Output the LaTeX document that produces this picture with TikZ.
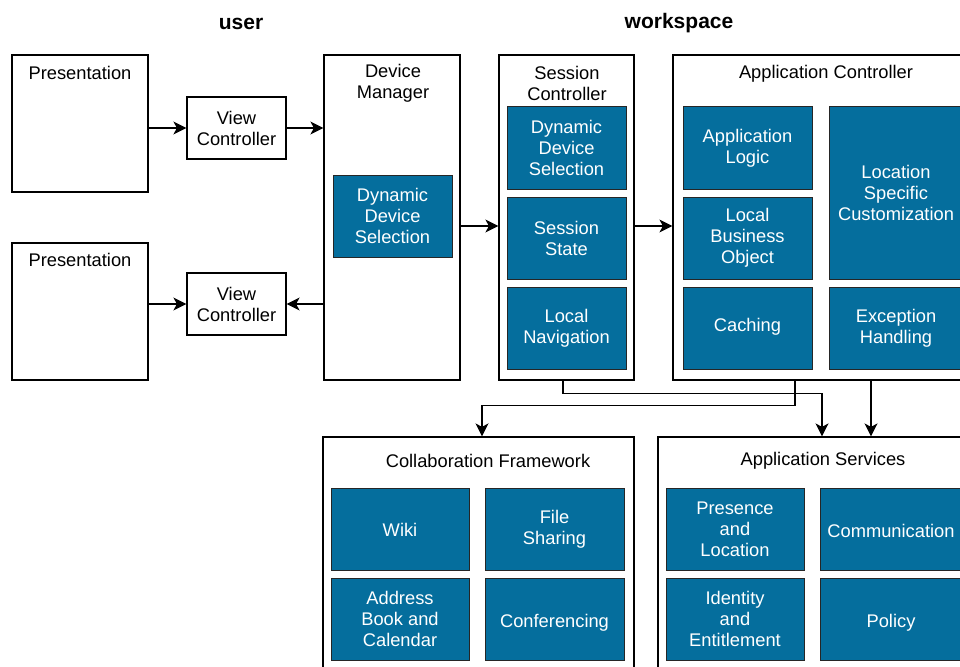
\documentclass[tikz,border=0pt]{standalone}
\usepackage{fontspec}
\setmainfont{Liberation Sans}
\usetikzlibrary{arrows.meta,calc}
\definecolor{cblue}{RGB}{5,110,157}
\newcommand{\dn}[2]{\raisebox{-#1}[\height][\depth]{#2}}
\begin{document}
\begin{tikzpicture}[x=1pt,y=-1pt,
  lbl/.style={font=\fontsize{18.3}{21}\selectfont, align=center},
  outer/.style={draw, line width=1.2pt, fill=white, inner sep=0pt},
  blk/.style={draw=black!85, line width=1pt, fill=cblue, text=white, lbl, inner sep=0pt, minimum height=82pt},
  vcbox/.style={draw, line width=1.2pt, fill=white, lbl, inner sep=0pt, minimum width=99pt, minimum height=62pt},
  ttl/.style={font=\fontsize{21}{24}\selectfont\bfseries},
  arr/.style={-{Stealth[length=13pt,width=13pt,inset=3.5pt]}, line width=1.3pt}]
\useasboundingbox (0,0) rectangle (960,666);
\clip (0,0) rectangle (960,666);
\fill[white] (0,0) rectangle (960,666);

\node[ttl] (tuser) at (241,23.5) {user};
\node[ttl] (tws) at (679,23.5) {workspace};

% left column
\node[outer, minimum width=136pt, minimum height=137pt] (pres1) at (80,123.5) {};
\node[lbl] (pres1t) at (80,73) {Presentation};
\node[outer, minimum width=136pt, minimum height=137pt] (pres2) at (80,311.5) {};
\node[lbl] (pres2t) at (80,260) {Presentation};
\node[vcbox] (vc1) at (236.5,128) {View\\Controller};
\node[vcbox] (vc2) at (236.5,304) {View\\Controller};

% device manager
\node[outer, minimum width=136pt, minimum height=325pt] (dm) at (392,217.5) {};
\node[lbl] (dmt) at (393,83) {Device\\Manager};
\node[blk, minimum width=119pt] (dds1) at (392.5,216) {Dynamic\\Device\\Selection};

% session controller
\node[outer, minimum width=135pt, minimum height=325pt] (sc) at (566.5,217.5) {};
\node[lbl] (sct) at (567,83) {Session\\Controller};
\node[blk, minimum width=119pt] (dds2) at (566.5,148) {Dynamic\\Device\\Selection};
\node[blk, minimum width=119pt] (ss) at (566.5,238) {Session\\State};
\node[blk, minimum width=119pt] (ln) at (566.5,328) {Local\\Navigation};

% application controller
\node[outer, minimum width=306pt, minimum height=325pt] (ac) at (826,217.5) {};
\node[lbl] (act) at (826,74) {Application Controller};
\node[blk, minimum width=129pt] (al) at (747.5,148) {Application\\Logic};
\node[blk, minimum width=129pt] (lbo) at (747.5,238) {Local\\Business\\Object};
\node[blk, minimum width=129pt] (cach) at (747.5,328) {\dn{-1pt}{Caching}};
\node[blk, minimum width=134pt, minimum height=172pt] (lsc) at (896,193) {Location\\Specific\\Customization};
\node[blk, minimum width=134pt] (eh) at (896,328) {Exception\\Handling};

% collaboration framework
\node[outer, minimum width=311pt, minimum height=263pt] (cf) at (478.5,568.5) {};
\node[lbl] (cft) at (488,461) {Collaboration Framework};
\node[blk, minimum width=138pt] (wiki) at (400,529) {\dn{1pt}{Wiki}};
\node[blk, minimum width=139pt] (fs) at (554.5,529) {File\\Sharing};
\node[blk, minimum width=138pt] (abc) at (400,619) {Address\\Book and\\Calendar};
\node[blk, minimum width=139pt] (conf) at (554.5,619) {\dn{4pt}{Conferencing}};

% application services
\node[outer, minimum width=330pt, minimum height=263pt] (as) at (823,568.5) {};
\node[lbl] (ast) at (823,460.5) {Application Services};
\node[blk, minimum width=138pt] (pl) at (735,529) {Presence\\and\\Location};
\node[blk, minimum width=142pt] (comm) at (891,529) {\dn{2pt}{Communication}};
\node[blk, minimum width=138pt] (ie) at (735,619) {Identity\\and\\Entitlement};
\node[blk, minimum width=142pt] (pol) at (891,619) {\dn{4pt}{Policy}};

% connectors
\draw[arr] (pres1.east |- vc1.west) -- (vc1.west);
\draw[arr] (vc1.east) -- (dm.west |- vc1.east);
\draw[arr] (pres2.east |- vc2.west) -- (vc2.west);
\draw[arr] (dm.west |- vc2.east) -- (vc2.east);
\draw[arr] ([yshift=-8.5pt]dm.east) -- ([yshift=-8.5pt]sc.west);
\draw[arr] ([yshift=-8.5pt]sc.east) -- ([yshift=-8.5pt]ac.west);
\draw[arr] ([xshift=-3.5pt]sc.south) -- ++(0,13) -| ([xshift=-1pt]as.north);
\draw[arr] ([xshift=-31pt]ac.south) -- ++(0,25) -| ([xshift=3.5pt]cf.north);
\draw[arr] ([xshift=45pt]ac.south) -- ([xshift=48pt]as.north);
\end{tikzpicture}
\end{document}
